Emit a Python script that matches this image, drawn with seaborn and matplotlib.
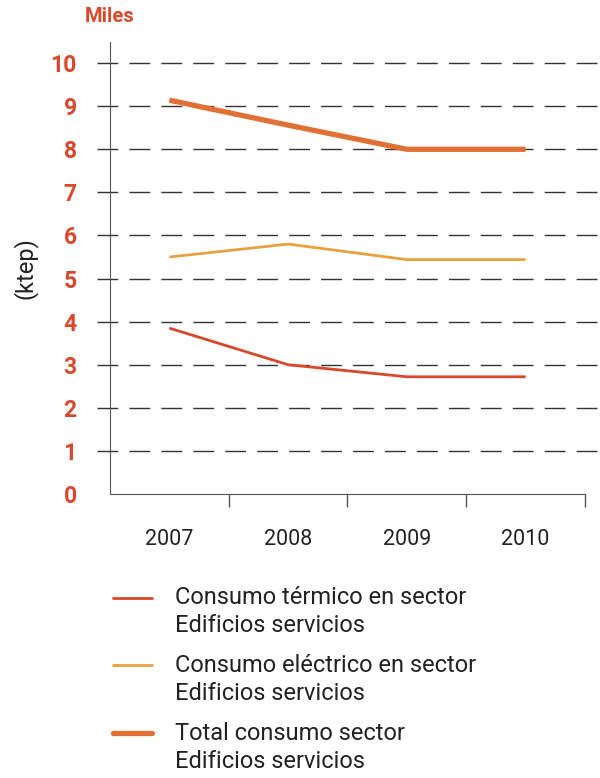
import numpy as np
import pandas as pd
import matplotlib
matplotlib.use("Agg")
import matplotlib.pyplot as plt
import seaborn as sns
from matplotlib.lines import Line2D

# Data (miles de ktep)
years = ["2007", "2008", "2009", "2010"]
termico = [3.85, 3.0, 2.72, 2.72]
electrico = [5.5, 5.8, 5.44, 5.44]
total = [9.14, 8.56, 8.0, 8.0]

series_names = [
    "Consumo térmico en sector\nEdificios servicios",
    "Consumo eléctrico en sector\nEdificios servicios",
    "Total consumo sector\nEdificios servicios",
]
colors = ["#d9482b", "#e8a040", "#e07035"]
widths = [2.0, 2.0, 3.8]
red_text = "#d9482b"

df = pd.DataFrame({
    "year": years * 3,
    "value": termico + electrico + total,
    "serie": np.repeat(series_names, len(years)),
})
df["pos"] = pd.Categorical(df["year"], categories=years).codes

sns.set_style("white")
plt.rcParams["font.family"] = ["Roboto", "DejaVu Sans"]

fig = plt.figure(figsize=(6, 7.78), dpi=100)
ax = fig.add_axes([110 / 600, 1 - 494 / 778, 490 / 600, (494 - 42) / 778])

for name, c, w in zip(series_names, colors, widths):
    sub = df[df["serie"] == name]
    sns.lineplot(data=sub, x="pos", y="value", color=c, linewidth=w, ax=ax,
                 legend=False, solid_capstyle="butt")

ax.set_xlim(-0.5, -0.5 + 490 / 118.75)
ax.set_ylim(0, 10.49)

# y axis
ax.set_yticks(range(0, 11))
ax.set_yticklabels([str(i) for i in range(0, 11)], color=red_text,
                   fontsize=16.5, fontweight="bold")
ax.tick_params(axis="y", left=True, direction="out", length=0, pad=24)
for yv in range(1, 11):
    ax.axhline(yv, color="#333333", linewidth=1, dashes=(15, 8), zorder=0,
               xmin=-13 / 490, clip_on=False)

# x axis: tick marks between categories, labels centered
ax.set_xticks([0.5, 1.5, 2.5, 3.5])
ax.set_xticklabels([])
ax.tick_params(axis="x", which="major", bottom=True, direction="out",
               length=9, width=1, color="#555555")
ax.set_xticks(range(len(years)), minor=True)
ax.set_xticklabels(years, minor=True, fontsize=15.5, color="#222222")
ax.tick_params(axis="x", which="minor", bottom=True, length=0, pad=25)

for s in ["top", "right"]:
    ax.spines[s].set_visible(False)
ax.spines["left"].set_color("#555555")
ax.spines["bottom"].set_color("#555555")
ax.spines["bottom"].set_bounds(-0.5, 3.5)
ax.set_xlabel("")
ax.set_ylabel("")

fig.text(85 / 600, 1 - 17 / 778, "Miles", color=red_text, fontsize=14.5,
         fontweight="bold", ha="left", va="center")
fig.text(25 / 600, 1 - 268 / 778, "(ktep)", color="#222222", fontsize=17,
         rotation=90, ha="center", va="center")

# legend: handle aligned with the first line of each label
row_y = [598, 665, 733]
for name, c, w, y in zip(series_names, colors, widths, row_y):
    fy = 1 - y / 778
    fig.add_artist(Line2D([113 / 600, 152 / 600], [fy, fy], color=c,
                          linewidth=w, transform=fig.transFigure))
    for k, line in enumerate(name.split("\n")):
        fig.text(175 / 600, 1 - (y + 28 * k) / 778, line, color="#222222",
                 fontsize=17, ha="left", va="center")

fig.savefig("out.png", dpi=100)
